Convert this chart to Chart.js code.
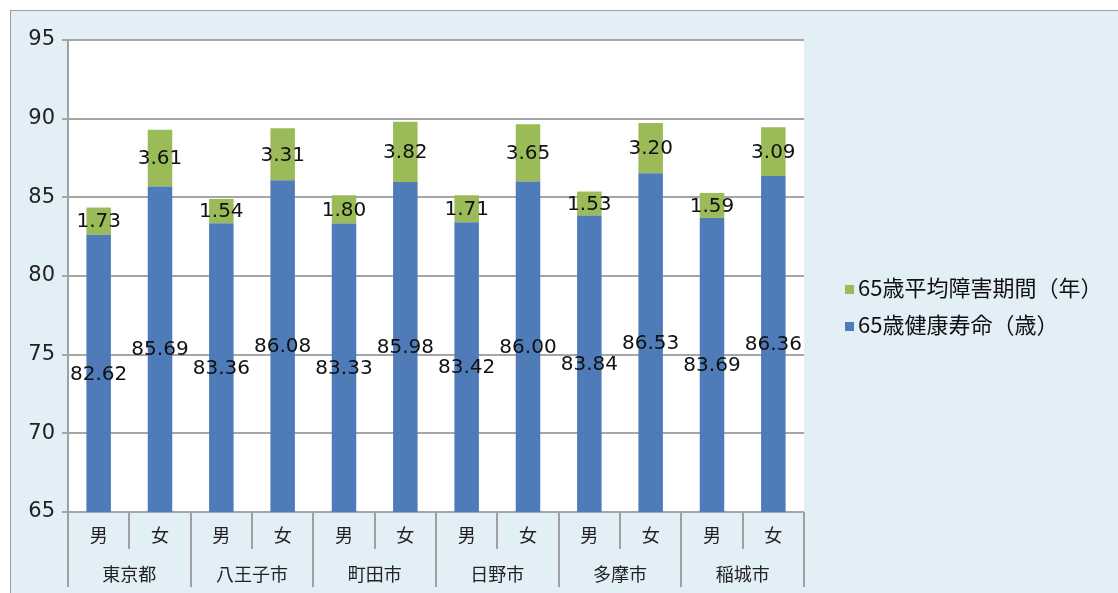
<!DOCTYPE html>
<html><head><meta charset="utf-8">
<script src="https://cdn.jsdelivr.net/npm/chart.js@4.4.0/dist/chart.umd.min.js"></script>
<style>
html,body{margin:0;padding:0;background:#fff;}
#wrap{position:relative;width:1118px;height:593px;overflow:hidden;}
#panel{position:absolute;left:10px;top:10px;width:1200px;height:700px;background:#e3eff6;border:1.5px solid #9e9e9e;}
#c{position:absolute;left:0;top:0;}
.lg{position:absolute;left:845px;font-family:"Noto Sans CJK JP",sans-serif;font-size:22px;color:#111;white-space:nowrap;line-height:26px;}
.lg i{display:inline-block;width:9px;height:9px;margin-right:4px;vertical-align:middle;position:relative;top:-1px;}
</style></head>
<body>
<div id="wrap">
<div id="panel"></div>
<canvas id="c" width="1118" height="593"></canvas>
<div class="lg" style="top:273px"><i style="background:#9bbb59"></i>65歳平均障害期間（年）</div>
<div class="lg" style="top:310px"><i style="background:#4f7cb9"></i>65歳健康寿命（歳）</div>
</div>
<script>
const sexLabels = ['男','女','男','女','男','女','男','女','男','女','男','女'];
const cities = ['東京都','八王子市','町田市','日野市','多摩市','稲城市'];
const healthyLife = [82.62,85.69,83.36,86.08,83.33,85.98,83.42,86.00,83.84,86.53,83.69,86.36];
const disabilityYears = [1.73,3.61,1.54,3.31,1.80,3.82,1.71,3.65,1.53,3.20,1.59,3.09];
const yTicks = [65,70,75,80,85,90,95];

const bgPlugin = {
  id:'bg',
  beforeDraw(chart){
    const {ctx, chartArea:a} = chart;
    ctx.save(); ctx.fillStyle='#fff';
    ctx.fillRect(a.left,a.top,a.right-a.left,a.bottom-a.top);
    ctx.restore();
  }
};

const labelPlugin = {
  id:'vals',
  afterDatasetsDraw(chart){
    const {ctx, chartArea:a} = chart;
    ctx.save();
    ctx.font = '20px "DejaVu Sans"';
    ctx.fillStyle = '#111';
    ctx.textAlign = 'center';
    ctx.textBaseline = 'middle';
    chart.data.datasets.forEach((ds,di)=>{
      const meta = chart.getDatasetMeta(di);
      meta.data.forEach((el,i)=>{
        const top = Math.max(Math.min(el.y, el.base), a.top);
        const bot = Math.min(Math.max(el.y, el.base), a.bottom);
        ctx.fillText(ds.data[i].toFixed(2), el.x, (top+bot)/2+1);
      });
    });
    ctx.restore();
  }
};

const axisPlugin = {
  id:'multiAxis',
  afterDraw(chart){
    const {ctx, chartArea:a} = chart;
    const n = sexLabels.length;
    const w = (a.right-a.left)/n;
    ctx.save();
    ctx.strokeStyle = '#a0a0a0';
    ctx.lineWidth = 2;
    for(let i=0;i<=n;i++){
      const x = Math.round(a.left + i*w);
      ctx.beginPath();
      ctx.moveTo(x, a.bottom);
      ctx.lineTo(x, i%2===0 ? a.bottom+75 : a.bottom+37);
      ctx.stroke();
    }
    ctx.fillStyle = '#222';
    ctx.textAlign = 'center';
    ctx.textBaseline = 'middle';
    ctx.font = '18px "Noto Sans CJK JP"';
    for(let i=0;i<n;i++){
      ctx.fillText(sexLabels[i], a.left+(i+0.5)*w, a.bottom+23);
    }
    for(let g=0; g<cities.length; g++){
      ctx.fillText(cities[g], a.left+(2*g+1)*w, a.bottom+62);
    }
    ctx.restore();
  }
};

new Chart(document.getElementById('c'), {
  type:'bar',
  data:{
    labels: sexLabels,
    datasets:[
      {label:'65歳健康寿命（歳）', data:healthyLife, backgroundColor:'#4f7cb9', barPercentage:0.4, categoryPercentage:1.0},
      {label:'65歳平均障害期間（年）', data:disabilityYears, backgroundColor:'#9bbb59', barPercentage:0.4, categoryPercentage:1.0}
    ]
  },
  options:{
    responsive:false,
    animation:false,
    layout:{padding:{top:40,left:10,right:314,bottom:81}},
    plugins:{legend:{display:false},tooltip:{enabled:false}},
    scales:{
      x:{
        stacked:true,
        ticks:{display:false},
        grid:{display:false},
        border:{display:false},
        afterFit(s){ s.height = 0; }
      },
      y:{
        stacked:true,
        min:yTicks[0], max:yTicks[yTicks.length-1],
        afterBuildTicks(s){ s.ticks = yTicks.map(v=>({value:v})); },
        ticks:{font:{family:'"DejaVu Sans"', size:21}, color:'#222', padding:7},
        grid:{color:'#a6a6a6', lineWidth:2, tickLength:6},
        border:{color:'#a0a0a0', width:2},
        afterFit(s){ s.width = 58; }
      }
    }
  },
  plugins:[bgPlugin, labelPlugin, axisPlugin]
});
</script>
</body></html>
